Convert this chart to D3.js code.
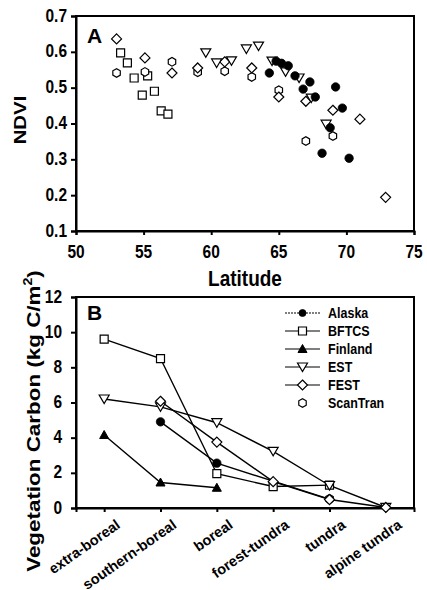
<!DOCTYPE html>
<html><head><meta charset="utf-8">
<script src="https://cdn.jsdelivr.net/npm/d3@7"></script>
<style>html,body{margin:0;padding:0;background:#fff}svg{display:block}text{font-family:"Liberation Sans",Arial,sans-serif;font-weight:bold;fill:#000}</style>
</head><body><svg id="c" width="427" height="590"></svg>
<script>
// Panel A data (latitude, NDVI)
const alaskaLat = [64.3,64.8,65.2,65.7,66.2,67.3,66.8,67.7,69.2,69.7,68.8,68.2,70.2];
const alaskaNdvi = [0.541,0.574,0.568,0.561,0.533,0.516,0.496,0.474,0.502,0.443,0.388,0.317,0.303];
const bftcsLat = [53.3,53.8,54.3,55.3,54.9,55.8,56.3,56.8];
const bftcsNdvi = [0.597,0.569,0.527,0.533,0.479,0.490,0.435,0.426];
const estLat = [59.6,60.4,61.5,62.6,63.5,64.5,65.5,66.5,67.4,68.5];
const estNdvi = [0.597,0.569,0.575,0.608,0.616,0.574,0.544,0.527,0.471,0.398];
const festLat = [53.0,55.1,57.1,59.0,61.0,63.0,65.0,67.0,69.0,71.0,72.9];
const festNdvi = [0.636,0.583,0.541,0.555,0.572,0.555,0.474,0.462,0.437,0.412,0.194];
const scanLat = [53.0,55.1,57.1,59.0,61.0,63.0,65.0,69.0,67.0];
const scanNdvi = [0.541,0.544,0.572,0.543,0.546,0.530,0.493,0.365,0.351];
const latTicks = [50,55,60,65,70,75];
const ndviTicks = [0.1,0.2,0.3,0.4,0.5,0.6,0.7];

// Panel B data (vegetation carbon by zone)
const zones = ["extra-boreal","southern-boreal","boreal","forest-tundra","tundra","alpine tundra"];
const carbonAlaska = [null,4.9,2.55,null,0.5,null];
const carbonBFTCS = [9.6,8.5,1.95,1.22,1.3,null];
const carbonFinland = [4.15,1.45,1.15,null,null,null];
const carbonEST = [6.2,5.75,4.85,3.22,1.28,0.03];
const carbonFEST = [null,6.07,3.75,1.5,0.48,0.03];
const carbonScanTran = [null,null,null,null,0.52,null];
const carbonTicks = [0,2,4,6,8,10,12];
const legendNames = ["Alaska","BFTCS","Finland","EST","FEST","ScanTran"];

const svg = d3.select("#c");
const L = 76, R = 414;

function marker(g, type, x, y) {
  let p;
  if (type === "circle") {
    return g.append("circle").attr("cx", x).attr("cy", y).attr("r", 4.2).attr("fill", "#000").attr("stroke", "#000").attr("stroke-width", 0.8);
  } else if (type === "square") {
    p = `M${x-4},${y-4}h8v8h-8z`;
  } else if (type === "triUp") {
    p = `M${x},${y-4.5}L${x+4.5},${y+3.5}L${x-4.5},${y+3.5}Z`;
    return g.append("path").attr("d", p).attr("fill", "#000").attr("stroke", "#000").attr("stroke-width", 1);
  } else if (type === "triDown") {
    p = `M${x-5},${y-4}L${x+5},${y-4}L${x},${y+4.5}Z`;
  } else if (type === "diamond") {
    p = `M${x},${y-5}L${x+5},${y}L${x},${y+5}L${x-5},${y}Z`;
  } else if (type === "hex") {
    const pts = d3.range(6).map(i => { const a = Math.PI/6 + i*Math.PI/3; return [x + 4.3*Math.cos(a), y + 4.3*Math.sin(a)]; });
    p = "M" + pts.map(q => q.join(",")).join("L") + "Z";
  }
  return g.append("path").attr("d", p).attr("fill", "#fff").attr("stroke", "#000").attr("stroke-width", 1.2);
}

function stretchText(g, x, y, txt, size, anchor, sy) {
  return g.append("text").attr("transform", `translate(${x},${y}) scale(1,${sy||1.15})`)
    .attr("text-anchor", anchor || "middle").attr("font-size", size).text(txt);
}

// ---------- Panel A ----------
const xA = d3.scaleLinear().domain([50,75]).range([L,R]);
const yA = d3.scaleLinear().domain([0.1,0.7]).range([231,16]);
const gA = svg.append("g");
gA.append("rect").attr("x", L).attr("y", 16).attr("width", R-L).attr("height", 231-16).attr("fill", "none").attr("stroke", "#000").attr("stroke-width", 2);
const axYA = gA.append("g").attr("transform", `translate(${L},0)`).call(d3.axisLeft(yA).tickValues(ndviTicks).tickSize(5).tickFormat(d3.format(".1f")));
const axXA = gA.append("g").attr("transform", `translate(0,231)`).call(d3.axisBottom(xA).tickValues(latTicks).tickSize(4).tickFormat(d3.format("d")));
[axYA, axXA].forEach(a => { a.select(".domain").attr("stroke-width", 2); a.selectAll(".tick line").attr("stroke-width", 2); a.selectAll("text").remove(); });
ndviTicks.forEach(t => stretchText(gA, 67, yA(t)+5.5, d3.format(".1f")(t), 15.5, "end"));
latTicks.forEach(t => stretchText(gA, xA(t), 258, String(t), 15.5, "middle"));
gA.append("text").attr("x", 87).attr("y", 43).attr("font-size", 21).text("A");
stretchText(gA, 245, 286, "Latitude", 19, "middle", 1.2);
gA.append("text").attr("transform", `translate(26,120) rotate(-90) scale(1.2,1)`).attr("text-anchor", "middle").attr("font-size", 17).text("NDVI");

const ptsA = [
  [bftcsLat, bftcsNdvi, "square"],
  [scanLat, scanNdvi, "hex"],
  [festLat, festNdvi, "diamond"],
  [estLat, estNdvi, "triDown"],
  [alaskaLat, alaskaNdvi, "circle"]
];
ptsA.forEach(([xs, ys, t]) => xs.forEach((v, i) => marker(gA, t, xA(v), yA(ys[i]))));

// ---------- Panel B ----------
const xB = d3.scalePoint().domain(zones).range([L,R]).padding(0.5);
const yB = d3.scaleLinear().domain([0,12]).range([508,297]);
const gB = svg.append("g");
gB.append("rect").attr("x", L).attr("y", 297).attr("width", R-L).attr("height", 508-297).attr("fill", "none").attr("stroke", "#000").attr("stroke-width", 2);
const axYB = gB.append("g").attr("transform", `translate(${L},0)`).call(d3.axisLeft(yB).tickValues(carbonTicks).tickSize(5));
const axXB = gB.append("g").attr("transform", `translate(0,508)`).call(d3.axisBottom(xB).tickSize(4));
[axYB, axXB].forEach(a => { a.select(".domain").attr("stroke-width", 2); a.selectAll(".tick line").attr("stroke-width", 2); a.selectAll("text").remove(); });
carbonTicks.forEach(t => stretchText(gB, 62, yB(t)+5.5, String(t), 15.5, "end"));
zones.forEach(z => {
  gB.append("text").attr("transform", `translate(${xB(z)+17},${508+19}) rotate(-35)`).attr("text-anchor", "end").attr("font-size", 14.5).text(z);
});
gB.append("text").attr("x", 87).attr("y", 320).attr("font-size", 21).text("B");
const yl = gB.append("text").attr("transform", `translate(40,421) rotate(-90) scale(1.18,1)`).attr("text-anchor", "middle").attr("font-size", 19);
yl.append("tspan").text("Vegetation Carbon (kg C/m");
yl.append("tspan").attr("font-size", 12).attr("dy", -8).text("2");
yl.append("tspan").attr("dy", 8).text(")");

const seriesB = [
  [carbonAlaska, "circle", true],
  [carbonBFTCS, "square", true],
  [carbonFinland, "triUp", true],
  [carbonEST, "triDown", true],
  [carbonScanTran, "hex", false],
  [carbonFEST, "diamond", true]
];
const line = d3.line().x(d => xB(d[0])).y(d => yB(d[1]));
seriesB.forEach(([vals, t, hasLine]) => {
  const pts = zones.map((z, i) => [z, vals[i]]).filter(d => d[1] !== null);
  if (hasLine && pts.length > 1) gB.append("path").attr("d", line(pts)).attr("fill", "none").attr("stroke", "#000").attr("stroke-width", 1.4);
});
seriesB.forEach(([vals, t]) => {
  zones.forEach((z, i) => { if (vals[i] !== null) marker(gB, t, xB(z), yB(vals[i])); });
});

// legend
const legTypes = ["circle","square","triUp","triDown","diamond","hex"];
legendNames.forEach((n, i) => {
  const y = 313 + i*18;
  if (i < 5) gB.append("line").attr("x1", 285).attr("x2", 320).attr("y1", y).attr("y2", y).attr("stroke", "#000").attr("stroke-width", 1.2)
    .attr("stroke-dasharray", i === 0 ? "2,1" : null);
  const m = marker(gB, legTypes[i], 302.5, y);
  if (legTypes[i] === "circle") m.attr("r", 3.5);
  stretchText(gB, 328, y+5, n, 12.5, "start", 1.2);
});
</script></body></html>
